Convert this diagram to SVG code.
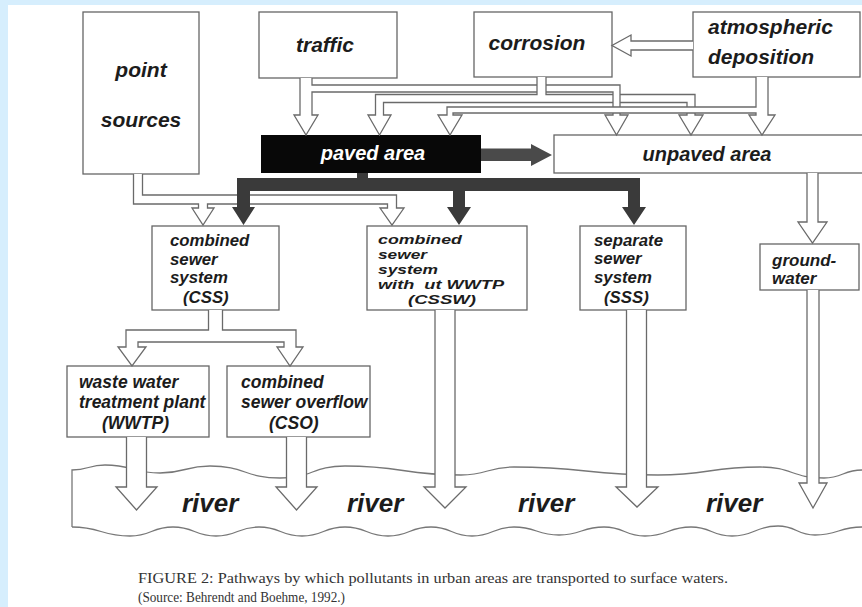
<svg xmlns="http://www.w3.org/2000/svg" width="862" height="607" viewBox="0 0 862 607">
<style>
.box{fill:#fff;stroke:#666;stroke-width:1.3}
.lbl{font-family:"Liberation Sans",Arial,sans-serif;font-weight:bold;font-style:italic;fill:#1c1c1c}
.t1{font-size:21px}
.t2{font-size:17.5px}
.t4{font-size:16.8px}
.t3{font-size:13.5px}
.riv{font-size:26px}
.cas{fill:none;stroke:#6a6a6a;stroke-linejoin:miter}
.core{fill:none;stroke:#fff;stroke-linejoin:miter}
.head{fill:#fff;stroke:#6a6a6a;stroke-width:1.3;stroke-linejoin:miter}
.cap{font-family:"Liberation Serif","Times New Roman",serif;font-size:14px;fill:#333}
.dark{fill:#3a3a3a}
</style>
<rect x="0" y="0" width="862" height="607" fill="#d6eefd"/>
<rect x="8" y="5" width="854" height="602" fill="#fff"/>

<!-- river -->
<g id="river">
<path fill="none" stroke="#777" stroke-width="1.3" d="M72,527 V470 C88.5,470 88.5,465 105,465 C132.5,465 132.5,473 160,473 C185,473 185,466 210,466 C245,466 245,478 280,478 C312.5,478 312.5,466 345,466 C403,466 403,475 461,475 C487.5,475 487.5,467 514,467 C586,467 586,475 658,475 C709,475 709,467 760,467 C792,467 792,478 824,478 C843,478 843,470 862,470"/>
<path fill="none" stroke="#777" stroke-width="1.3" d="M72,527 C101,527 101,536 130,536 C151.5,536 151.5,527 173,527 C194.5,527 194.5,536 216,536 C237.5,536 237.5,527 259,527 C280.5,527 280.5,536 302,536 C323.5,536 323.5,527 345,527 C366.5,527 366.5,536 388,536 C409.5,536 409.5,527 431,527 C451.5,527 451.5,536 472,536 C493,536 493,527 514,527 C536.5,527 536.5,535 559,535 C581.5,535 581.5,527 604,527 C624.5,527 624.5,536 645,536 C668,536 668,527 691,527 C711.5,527 711.5,536 732,536 C755,536 755,526 778,526 C796.5,526 796.5,535 815,535 C838.5,535 838.5,527 862,527"/>
<text class="lbl riv" x="182" y="512">river</text>
<text class="lbl riv" x="347" y="512">river</text>
<text class="lbl riv" x="518" y="512">river</text>
<text class="lbl riv" x="706" y="512">river</text>
</g>

<g id="point-sources"><rect class="box" x="83" y="12" width="116" height="162"/>
<text class="lbl t1" x="141" y="77" text-anchor="middle">point</text>
<text class="lbl t1" x="141" y="127" text-anchor="middle">sources</text></g>
<g id="traffic"><rect class="box" x="259" y="12" width="138" height="66"/>
<text class="lbl t1" x="325" y="52" text-anchor="middle">traffic</text></g>
<g id="corrosion"><rect class="box" x="474" y="12" width="138" height="65"/>
<text class="lbl t1" x="537" y="50" text-anchor="middle">corrosion</text></g>
<g id="atmospheric-deposition"><rect class="box" x="693" y="12" width="167" height="65"/>
<text class="lbl t1" x="708" y="34">atmospheric</text>
<text class="lbl t1" x="708" y="64">deposition</text></g>
<g id="paved-area"><rect x="261" y="135" width="220" height="38" fill="#080808"/>
<text class="lbl" x="373" y="160" text-anchor="middle" font-size="20" style="fill:#fff">paved area</text></g>
<g id="unpaved-area"><rect class="box" x="554" y="135" width="320" height="38"/>
<text class="lbl" x="707" y="161" text-anchor="middle" font-size="20">unpaved area</text></g>
<g id="css"><rect class="box" x="152" y="226" width="127" height="84"/>
<text class="lbl t4" x="170" y="246">combined</text>
<text class="lbl t4" x="170" y="264.5">sewer</text>
<text class="lbl t4" x="170" y="283">system</text>
<text class="lbl t4" x="183" y="303">(CSS)</text></g>
<g id="cssw"><rect class="box" x="367" y="226" width="160" height="84"/>
<text class="lbl t3" x="378" y="244" textLength="84" lengthAdjust="spacingAndGlyphs">combined</text>
<text class="lbl t3" x="378" y="259" textLength="49" lengthAdjust="spacingAndGlyphs">sewer</text>
<text class="lbl t3" x="378" y="274" textLength="60" lengthAdjust="spacingAndGlyphs">system</text>
<text class="lbl t3" x="378" y="289" xml:space="preserve" textLength="126" lengthAdjust="spacingAndGlyphs">with  ut WWTP</text>
<text class="lbl t3" x="408" y="304" textLength="68" lengthAdjust="spacingAndGlyphs">(CSSW)</text></g>
<g id="sss"><rect class="box" x="580" y="226" width="106" height="84"/>
<text class="lbl t4" x="594" y="245.5">separate</text>
<text class="lbl t4" x="594" y="264">sewer</text>
<text class="lbl t4" x="594" y="282.5">system</text>
<text class="lbl t4" x="604" y="303">(SSS)</text></g>
<g id="groundwater"><rect class="box" x="760" y="244" width="99" height="46"/>
<text class="lbl" font-size="17" x="772" y="266">ground-</text>
<text class="lbl" font-size="17" x="772" y="284">water</text></g>
<g id="wwtp"><rect class="box" x="67" y="366" width="142" height="71"/>
<text class="lbl t2" x="79" y="388">waste water</text>
<text class="lbl t2" x="79" y="408">treatment plant</text>
<text class="lbl t2" x="102" y="429">(WWTP)</text></g>
<g id="cso"><rect class="box" x="227" y="366" width="143" height="71"/>
<text class="lbl t2" x="241" y="388">combined</text>
<text class="lbl t2" x="241" y="408">sewer overflow</text>
<text class="lbl t2" x="269" y="429">(CSO)</text></g>

<g id="connectors">
<!-- corrosion to paved / unpaved -->
<path class="cas" stroke-width="9.3" d="M379.5,115 V98.5 H691 V115"/>
<polygon class="head" points="368,115 391,115 379.5,135"/>
<polygon class="head" points="679,115 703,115 691,135"/>
<path class="core" stroke-width="6.7" d="M379.5,117 V98.5 H691 V117"/>
<!-- traffic -->
<path class="cas" stroke-width="13.3" d="M306,78 V115"/>
<path class="cas" stroke-width="8.3" d="M306,88.5 H616.5 V115"/>
<polygon class="head" points="294,115 318,115 306,135"/>
<polygon class="head" points="605,115 628,115 616.5,135"/>
<path class="core" stroke-width="10.7" d="M306,78 V117"/>
<path class="core" stroke-width="5.7" d="M306,88.5 H616.5 V117"/>
<!-- corrosion shaft -->
<path class="cas" stroke-width="10.3" d="M541.5,77 V95"/>
<path class="core" stroke-width="7.7" d="M541.5,77 V97"/>
<!-- atmospheric deposition -->
<path class="cas" stroke-width="13.3" d="M762,77 V115"/>
<path class="cas" stroke-width="7.3" d="M762,110 H450 V115"/>
<polygon class="head" points="749,115 775,115 762,135"/>
<polygon class="head" points="438,115 462,115 450,135"/>
<path class="core" stroke-width="10.7" d="M762,77 V117"/>
<path class="core" stroke-width="4.7" d="M762,110 H450 V117"/>
<!-- atmospheric to corrosion -->
<path class="cas" stroke-width="10.3" d="M693,45.5 H631"/>
<polygon class="head" points="631,35 631,56 612,45.5"/>
<path class="core" stroke-width="7.7" d="M693,45.5 H629"/>
<!-- unpaved to groundwater -->
<path class="cas" stroke-width="12.3" d="M812.5,173 V222"/>
<polygon class="head" points="798,222 827,222 812.5,243"/>
<path class="core" stroke-width="9.7" d="M812.5,173 V224"/>
<!-- point sources -->
<path class="cas" stroke-width="10.3" d="M138,174 V199.5 H392 V208"/>
<path class="cas" stroke-width="10.3" d="M203,199.5 V208"/>
<polygon class="head" points="192,208 214,208 203,225"/>
<polygon class="head" points="380,208 404,208 392,225"/>
<path class="core" stroke-width="7.7" d="M138,174 V199.5 H392 V210"/>
<path class="core" stroke-width="7.7" d="M203,199.5 V210"/>
<!-- paved dark arrows -->
<path class="dark" d="M357,173 H368 V178 H640 V207 H646 L634,225 L622,207 H628 V191 H465 V207 H471 L459,225 L447,207 H453 V191 H250 V207 H255 L243.5,225 L232,207 H237 V178 H357 Z"/>
<path fill="#4a4a4a" d="M481,148.5 H531 V144 L552,155 L531,166 V161 H481 Z"/>
<!-- CSS to WWTP / CSO -->
<path class="cas" stroke-width="15.3" d="M215.5,310 V336"/>
<path class="cas" stroke-width="13.3" d="M132,347 V336 H290 V347"/>
<polygon class="head" points="118,347 146,347 132,366"/>
<polygon class="head" points="277,347 303,347 290,366"/>
<path class="core" stroke-width="12.7" d="M215.5,310 V338"/>
<path class="core" stroke-width="10.7" d="M132,349 V336 H290 V349"/>
<!-- to river -->
<path class="cas" stroke-width="21.3" d="M136.5,437 V487"/>
<path class="cas" stroke-width="21.3" d="M296.5,437 V487"/>
<path class="cas" stroke-width="21.3" d="M445,310 V487"/>
<path class="cas" stroke-width="21.3" d="M636.5,310 V487"/>
<path class="cas" stroke-width="13.3" d="M813,290 V483"/>
<polygon class="head" points="116,487 157,487 136.5,510"/>
<polygon class="head" points="276,487 317,487 296.5,510"/>
<polygon class="head" points="424,487 466,487 445,508"/>
<polygon class="head" points="616,487 658,487 637,507"/>
<polygon class="head" points="799,483 827,483 813,508"/>
<path class="core" stroke-width="18.7" d="M136.5,437 V489"/>
<path class="core" stroke-width="18.7" d="M296.5,437 V489"/>
<path class="core" stroke-width="18.7" d="M445,310 V489"/>
<path class="core" stroke-width="18.7" d="M636.5,310 V489"/>
<path class="core" stroke-width="10.7" d="M813,290 V485"/>
</g>

<text class="cap" x="138" y="583" textLength="590" lengthAdjust="spacingAndGlyphs">FIGURE 2:  Pathways by which pollutants in urban areas are transported to surface waters.</text>
<text class="cap" x="138" y="602" textLength="207" lengthAdjust="spacingAndGlyphs">(Source: Behrendt and Boehme, 1992.)</text>
</svg>
